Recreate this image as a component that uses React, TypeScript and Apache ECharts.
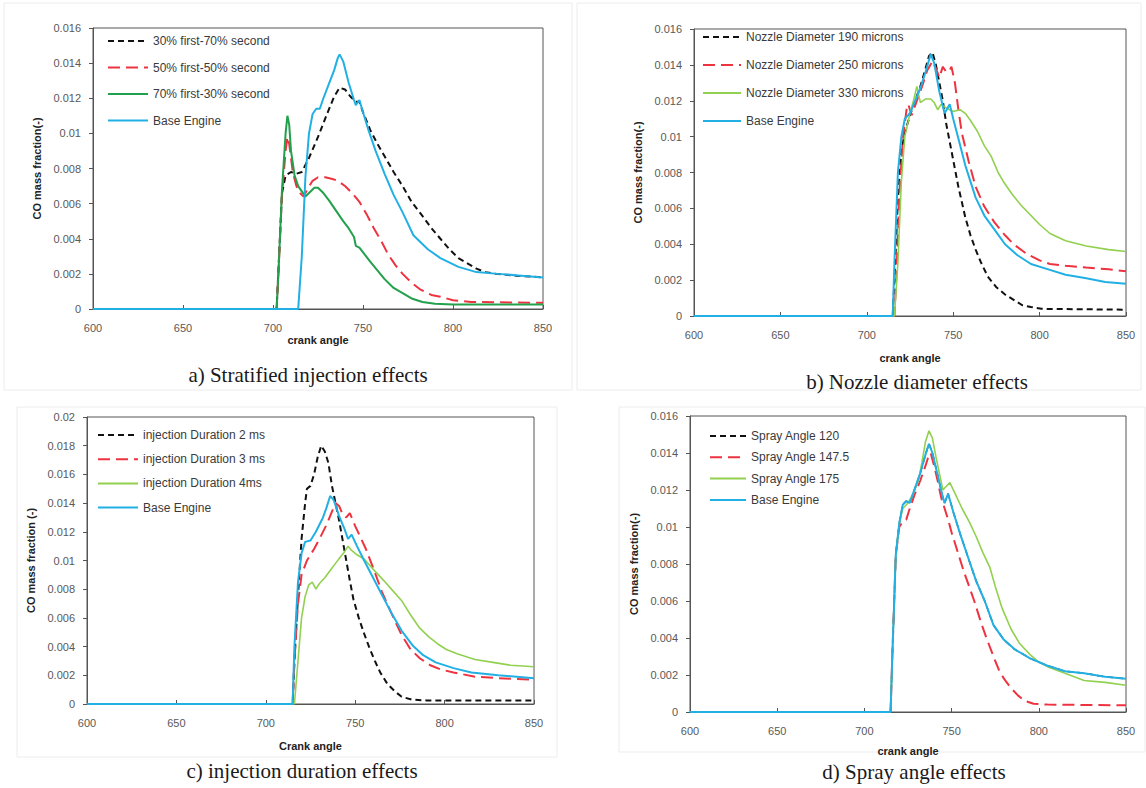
import React, { useEffect, useRef } from "react";
import * as echarts from "echarts";

type Pt = [number, number];

// ---------- axis ticks ----------
const xTicks = [600, 650, 700, 750, 800, 850];
const yMaxStd = 0.016;
const yMaxC = 0.02;

// ---------- legend names ----------
const aNames = ["30% first-70% second", "50% first-50% second", "70% first-30% second", "Base Engine"];
const bNames = ["Nozzle Diameter 190 microns", "Nozzle Diameter 250 microns", "Nozzle Diameter 330 microns", "Base Engine"];
const cNames = ["injection Duration 2 ms", "injection Duration 3 ms", "injection Duration 4ms", "Base Engine"];
const dNames = ["Spray Angle 120", "Spray Angle 147.5", "Spray Angle 175", "Base Engine"];

// ---------- panel a: stratified injection ----------
const a3070: Pt[] = [[600,0],[702,0],[703,0.0022],[705,0.0066],[707,0.0076],[710,0.0078],[713,0.0077],[716,0.0078],[720,0.0086],[725,0.0098],[730,0.0111],[734,0.0121],[737,0.0126],[740,0.0125],[743,0.0121],[746,0.0118],[748,0.0118],[750,0.0112],[754,0.0102],[758,0.0094],[762,0.0087],[767,0.0078],[772,0.0070],[777,0.0061],[783,0.0053],[788,0.0046],[793,0.0040],[798,0.0034],[803,0.0029],[808,0.0026],[813,0.0023],[818,0.0021],[824,0.0020],[835,0.0019],[850,0.0018]];
const a5050: Pt[] = [[600,0],[702,0],[703,0.002],[705,0.0065],[707,0.0090],[708,0.0098],[709,0.0094],[711,0.0078],[713,0.0070],[715,0.0066],[717,0.0064],[719,0.0068],[722,0.0073],[725,0.0075],[729,0.0075],[733,0.0074],[736,0.0073],[740,0.0070],[744,0.0066],[748,0.0061],[752,0.0054],[756,0.0046],[760,0.0039],[764,0.0031],[768,0.0025],[772,0.0020],[777,0.0015],[782,0.0011],[788,0.0008],[793,0.0007],[800,0.0005],[810,0.0004],[850,0.00035]];
const a7030: Pt[] = [[600,0],[702,0],[703,0.002],[705,0.0068],[707,0.0100],[708,0.0110],[709,0.0105],[710,0.0090],[712,0.0076],[714,0.0070],[716,0.0067],[718,0.0064],[720,0.0066],[723,0.0069],[725,0.0069],[728,0.0066],[731,0.0062],[735,0.0056],[739,0.0050],[742,0.0046],[745,0.0041],[746,0.0036],[748,0.0035],[751,0.0031],[754,0.0027],[758,0.0022],[762,0.0017],[767,0.0012],[772,0.0009],[777,0.0006],[783,0.0004],[790,0.0003],[800,0.00025],[850,0.00025]];
const aBase: Pt[] = [[600,0],[714,0],[716,0.003],[718,0.0075],[720,0.0100],[722,0.0111],[724,0.0114],[726,0.0114],[728,0.0120],[731,0.0128],[734,0.0136],[736,0.0143],[737,0.0145],[739,0.0141],[742,0.0129],[745,0.0119],[746,0.0116],[748,0.0119],[750,0.0112],[753,0.0102],[757,0.0090],[762,0.0077],[767,0.0065],[772,0.0055],[778,0.0042],[780,0.0040],[786,0.0034],[793,0.0029],[803,0.0024],[813,0.0021],[825,0.0020],[838,0.0019],[850,0.0018]];

// ---------- panel b: nozzle diameter ----------
const b190: Pt[] = [[600,0],[715,0],[716,0.002],[718,0.0065],[720,0.0092],[722,0.0102],[725,0.0112],[728,0.0120],[731,0.0128],[734,0.0138],[736,0.0145],[738,0.0147],[740,0.0140],[742,0.0130],[744,0.0120],[746,0.0107],[748,0.0097],[750,0.0087],[753,0.0072],[757,0.0055],[760,0.0045],[763,0.0037],[766,0.0030],[770,0.0022],[775,0.0016],[780,0.0012],[785,0.0009],[790,0.0006],[795,0.0005],[801,0.0004],[850,0.00035]];
const b250: Pt[] = [[600,0],[716,0],[717,0.002],[719,0.0070],[721,0.0100],[723,0.0115],[724,0.0118],[726,0.0112],[729,0.0120],[732,0.0128],[735,0.0137],[738,0.0142],[740,0.0138],[742,0.0133],[744,0.0139],[746,0.0136],[748,0.0137],[749,0.0139],[751,0.0130],[753,0.0115],[755,0.0102],[759,0.0086],[763,0.0072],[768,0.0061],[774,0.0052],[780,0.0045],[785,0.0040],[792,0.0035],[800,0.0031],[806,0.0029],[815,0.0028],[827,0.0027],[840,0.0026],[850,0.0025]];
const b330: Pt[] = [[600,0],[716,0],[718,0.0030],[720,0.0075],[722,0.0100],[725,0.0113],[727,0.0120],[729,0.0128],[731,0.0119],[734,0.0121],[737,0.0121],[739,0.0119],[741,0.0115],[743,0.0118],[746,0.0116],[750,0.0114],[754,0.0115],[757,0.0113],[760,0.0109],[764,0.0103],[768,0.0095],[772,0.0089],[776,0.0080],[779,0.0075],[784,0.0068],[789,0.0062],[795,0.0056],[800,0.0051],[806,0.0046],[815,0.0042],[827,0.0039],[840,0.0037],[850,0.0036]];
const bBase: Pt[] = [[600,0],[715,0],[716,0.003],[718,0.0080],[720,0.0100],[722,0.0110],[725,0.0113],[728,0.0120],[731,0.0127],[734,0.0136],[737,0.0146],[739,0.0141],[742,0.0125],[745,0.0113],[748,0.0118],[750,0.0110],[753,0.0099],[757,0.0084],[763,0.0066],[768,0.0056],[774,0.0048],[780,0.0040],[787,0.0034],[795,0.0029],[805,0.0026],[815,0.0023],[827,0.0021],[838,0.0019],[850,0.0018]];

// ---------- panel c: injection duration ----------
const c2ms: Pt[] = [[600,0],[715,0],[716,0.003],[718,0.0075],[720,0.0115],[722,0.0140],[723,0.0150],[725,0.0152],[727,0.0160],[729,0.0172],[731,0.0180],[733,0.0176],[735,0.0168],[737,0.0152],[739,0.0140],[741,0.0128],[743,0.0114],[745,0.0100],[747,0.0086],[749,0.0073],[752,0.0060],[755,0.0049],[758,0.0039],[761,0.0030],[764,0.0022],[768,0.0014],[772,0.0009],[776,0.0005],[782,0.0003],[790,0.00025],[850,0.00025]];
const c3ms: Pt[] = [[600,0],[715,0],[716,0.003],[718,0.0070],[720,0.0090],[723,0.0100],[727,0.0108],[730,0.0115],[734,0.0125],[737,0.0134],[739,0.0140],[741,0.0138],[743,0.0132],[745,0.0130],[747,0.0133],[750,0.0124],[753,0.0116],[756,0.0108],[760,0.0095],[765,0.0078],[770,0.0064],[776,0.0048],[781,0.0038],[786,0.0032],[792,0.0027],[798,0.0024],[805,0.0022],[817,0.0019],[830,0.0018],[850,0.0017]];
const c4ms: Pt[] = [[600,0],[716,0],[718,0.0030],[720,0.0060],[722,0.0075],[724,0.0083],[726,0.0085],[728,0.0080],[730,0.0084],[733,0.0088],[736,0.0093],[739,0.0098],[742,0.0103],[744,0.0106],[746,0.0110],[748,0.0107],[751,0.0104],[755,0.0101],[760,0.0094],[766,0.0086],[771,0.0079],[776,0.0072],[781,0.0062],[786,0.0053],[791,0.0047],[796,0.0042],[801,0.0038],[807,0.0035],[817,0.0031],[827,0.0029],[837,0.0027],[850,0.0026]];
const cBase: Pt[] = [[600,0],[715,0],[716,0.004],[718,0.0085],[720,0.0105],[722,0.0113],[725,0.0114],[728,0.0120],[732,0.0130],[734,0.0137],[736,0.0145],[738,0.0142],[741,0.0131],[744,0.0122],[746,0.0115],[748,0.0118],[751,0.0110],[755,0.0100],[760,0.0088],[765,0.0076],[770,0.0064],[776,0.0051],[782,0.0041],[788,0.0034],[795,0.0029],[805,0.0025],[815,0.0022],[830,0.0020],[850,0.0018]];

// ---------- panel d: spray angle ----------
const d120: Pt[] = [[600,0],[715,0],[716,0.003],[718,0.0085],[720,0.0102],[722,0.0112],[724,0.0114],[726,0.0113],[729,0.0121],[732,0.0129],[735,0.0139],[737,0.0145],[739,0.0140],[741,0.0132],[743,0.0124],[745,0.0116],[746,0.0113],[748,0.0118],[751,0.0108],[755,0.0096],[760,0.0082],[764,0.0071],[769,0.0060],[774,0.0047],[780,0.0039],[786,0.0034],[795,0.0029],[805,0.0025],[815,0.0022],[826,0.0021],[838,0.0019],[850,0.0018]];
const d1475: Pt[] = [[600,0],[715,0],[716,0.003],[718,0.0085],[720,0.0100],[722,0.0103],[724,0.0104],[726,0.0110],[729,0.0118],[732,0.0125],[735,0.0133],[737,0.0139],[738,0.0140],[740,0.0133],[742,0.0125],[744,0.0116],[746,0.0110],[748,0.0104],[750,0.0097],[753,0.0088],[757,0.0076],[760,0.0068],[763,0.0060],[767,0.0048],[770,0.0040],[774,0.0030],[777,0.0023],[780,0.0018],[784,0.0013],[788,0.0009],[792,0.0006],[797,0.00045],[805,0.0004],[850,0.00036]];
const d175: Pt[] = [[600,0],[715,0],[716,0.003],[718,0.0085],[720,0.0102],[722,0.0110],[725,0.0113],[728,0.0118],[731,0.0125],[733,0.0135],[735,0.0146],[737,0.0152],[739,0.0148],[741,0.0138],[743,0.0129],[745,0.0120],[747,0.0122],[749,0.0124],[752,0.0118],[756,0.0110],[760,0.0103],[764,0.0095],[768,0.0086],[772,0.0078],[775,0.0068],[779,0.0056],[784,0.0045],[789,0.0037],[795,0.0031],[800,0.0027],[806,0.0024],[815,0.0021],[826,0.0017],[838,0.0016],[850,0.00145]];
const dBase: Pt[] = [[600,0],[715,0],[716,0.003],[718,0.0085],[720,0.0102],[722,0.0112],[724,0.0114],[726,0.0113],[729,0.0121],[732,0.0129],[735,0.0139],[737,0.0145],[739,0.0140],[741,0.0132],[743,0.0124],[745,0.0116],[746,0.0113],[748,0.0118],[751,0.0108],[755,0.0096],[760,0.0082],[764,0.0071],[769,0.0060],[774,0.0047],[780,0.0039],[786,0.0034],[795,0.0029],[805,0.0025],[815,0.0022],[826,0.0021],[838,0.0019],[850,0.0018]];

// ---------- captions ----------
const captions = ["a) Stratified injection effects", "b) Nozzle diameter effects", "c) injection duration effects", "d) Spray angle effects"];

const BLACK = "#111111";
const RED = "#ee3340";
const DARKGREEN = "#22a04b";
const LIGHTGREEN = "#92d050";
const BASE = "#22b0e4";

const FONT = "Liberation Sans, Arial, sans-serif";

function line(name: string, data: Pt[], idx: number, color: string, dash: any, width: number) {
  return {
    type: "line",
    name,
    data,
    xAxisIndex: idx,
    yAxisIndex: idx,
    symbol: "none",
    showSymbol: false,
    smooth: false,
    color,
    lineStyle: { color, width, type: dash },
  };
}

const grids = [
  { left: 93, top: 28, width: 450, height: 281 },
  { left: 694, top: 29, width: 432, height: 287 },
  { left: 87, top: 417, width: 447, height: 287 },
  { left: 690, top: 416, width: 436, height: 296 },
];

export default function App() {
  const ref = useRef<HTMLDivElement>(null);
  useEffect(() => {
    if (!ref.current) return;
    const chart = echarts.init(ref.current, undefined, { renderer: "svg" });
    const xNames = ["crank angle", "crank angle", "Crank angle", "crank angle"];
    const yNames = ["CO mass fraction(-)", "CO mass fraction(-)", "CO mass fraction (-)", "CO mass fraction(-)"];
    const xNameGaps = [25, 36, 36, 33];
    const yMaxes = [yMaxStd, yMaxStd, yMaxC, yMaxStd];

    const xAxis = grids.map((_, i) => ({
      type: "value",
      gridIndex: i,
      min: xTicks[0],
      max: xTicks[xTicks.length - 1],
      interval: 50,
      name: xNames[i],
      nameLocation: "middle",
      nameGap: xNameGaps[i],
      nameTextStyle: { fontFamily: FONT, fontSize: 11, fontWeight: "bold", color: "#222" },
      axisLine: { show: true, lineStyle: { color: "#555", width: 1 } },
      axisTick: { show: true, inside: true, length: 4, lineStyle: { color: "#555" } },
      axisLabel: { margin: 13, fontFamily: FONT, fontSize: 11, color: "#595959" },
      splitLine: { show: false },
    }));
    const yAxis = grids.map((_, i) => ({
      type: "value",
      gridIndex: i,
      min: 0,
      max: yMaxes[i],
      interval: 0.002,
      name: yNames[i],
      nameLocation: "middle",
      nameGap: 51,
      nameTextStyle: { fontFamily: FONT, fontSize: 11, fontWeight: "bold", color: "#222" },
      axisLine: { show: true, lineStyle: { color: "#555", width: 1 } },
      axisTick: { show: true, inside: false, length: 4, lineStyle: { color: "#555" } },
      axisLabel: { margin: 12, fontFamily: FONT, fontSize: 11, color: "#595959" },
      splitLine: { show: false },
    }));

    const legendCfg = [
      { names: aNames, left: 107, top: 35, w: 40, gap: 14.5 },
      { names: bNames, left: 702, top: 31, w: 38, gap: 16 },
      { names: cNames, left: 97, top: 429, w: 40, gap: 12.2 },
      { names: dNames, left: 709, top: 430, w: 36, gap: 9.3 },
    ];
    const legend = legendCfg.map((l) => ({
      orient: "vertical",
      left: l.left,
      top: l.top,
      itemWidth: l.w,
      itemHeight: 12,
      itemGap: l.gap,
      padding: 0,
      selectedMode: false,
      itemStyle: { opacity: 0 },
      data: l.names,
      textStyle: { fontFamily: FONT, fontSize: 12, color: "#3a3a3a" },
    }));

    const series = [
      line(aNames[0], a3070, 0, BLACK, [6, 4], 2),
      line(aNames[1], a5050, 0, RED, [12, 6], 2),
      line(aNames[2], a7030, 0, DARKGREEN, "solid", 2),
      line(aNames[3], aBase, 0, BASE, "solid", 2),
      line(bNames[0], b190, 1, BLACK, [6, 4], 2),
      line(bNames[1], b250, 1, RED, [12, 6], 2),
      line(bNames[2], b330, 1, LIGHTGREEN, "solid", 1.6),
      line(bNames[3], bBase, 1, BASE, "solid", 2),
      line(cNames[0], c2ms, 2, BLACK, [6, 4], 2),
      line(cNames[1], c3ms, 2, RED, [12, 6], 2),
      line(cNames[2], c4ms, 2, LIGHTGREEN, "solid", 1.6),
      line(cNames[3], cBase, 2, BASE, "solid", 2),
      line(dNames[0], d120, 3, BLACK, [6, 4], 1.5),
      line(dNames[1], d1475, 3, RED, [12, 6], 2),
      line(dNames[2], d175, 3, LIGHTGREEN, "solid", 1.6),
      line(dNames[3], dBase, 3, BASE, "solid", 2),
    ];

    const capPos = [
      [308, 375],
      [917, 382],
      [302, 771],
      [914, 772],
    ];
    const frames = [
      [4, 3, 568, 387],
      [577, 3, 564, 387],
      [17, 407, 540, 350],
      [619, 407, 526, 345],
    ];
    const graphic: any[] = [];
    frames.forEach((f) =>
      graphic.push({
        type: "rect",
        shape: { x: f[0], y: f[1], width: f[2], height: f[3] },
        style: { fill: "none", stroke: "#ececec", lineWidth: 1 },
        silent: true,
        z: -1,
      })
    );
    captions.forEach((t, i) =>
      graphic.push({
        type: "text",
        x: capPos[i][0],
        y: capPos[i][1],
        style: {
          text: t,
          fill: "#1a1a1a",
          font: "21px 'Liberation Serif', 'Times New Roman', serif",
          textAlign: "center",
          textVerticalAlign: "middle",
        },
      })
    );

    chart.setOption({
      animation: false,
      backgroundColor: "#ffffff",
      grid: grids.map((g) => ({ ...g, show: true, borderColor: "#555", borderWidth: 1, backgroundColor: "transparent" })),
      xAxis,
      yAxis,
      legend,
      series,
      graphic,
    } as any);
    return () => chart.dispose();
  }, []);
  return <div ref={ref} style={{ position: "absolute", left: 0, top: 0, width: 1146, height: 788, background: "#fff" }} />;
}
